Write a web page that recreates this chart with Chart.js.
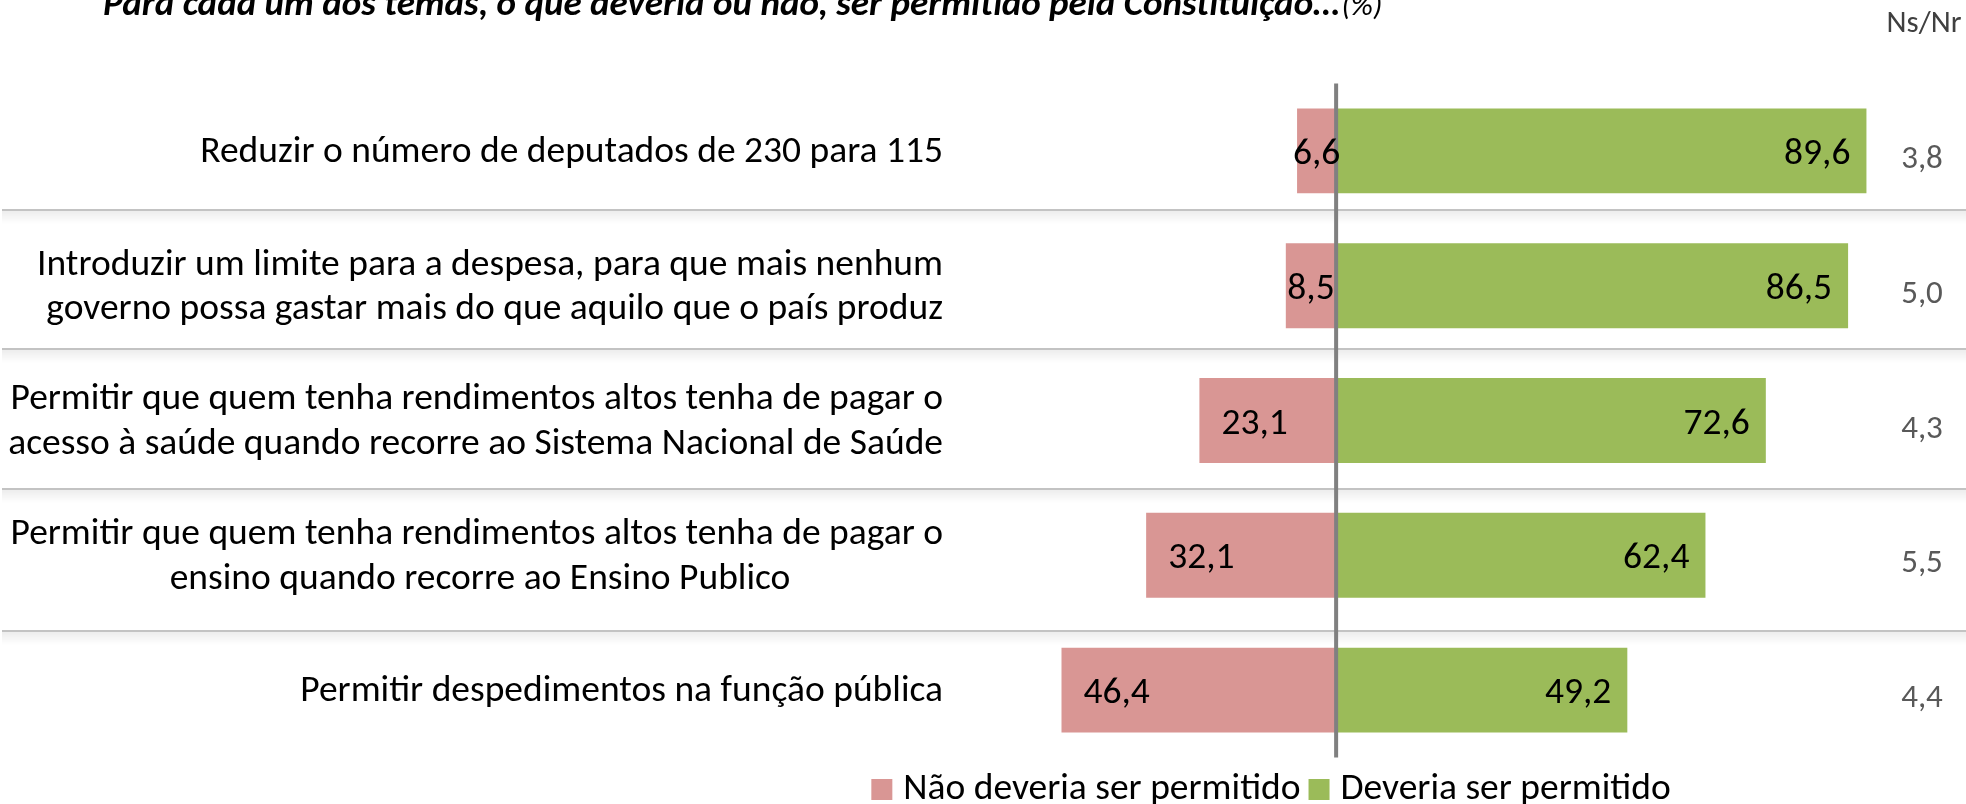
<!DOCTYPE html>
<html><head><meta charset="utf-8">
<script src="https://cdn.jsdelivr.net/npm/chart.js@4.4.1/dist/chart.umd.min.js"></script>
<style>html,body{margin:0;padding:0;background:#fff;overflow:hidden}#wrap{width:1966px;height:804px;position:relative}</style>
</head><body>
<div id="wrap"><canvas id="c"></canvas></div>
<script>
// ---- data ----
const categories = [
  ['Reduzir o número de deputados de 230 para 115'],
  ['Introduzir um limite para a despesa, para que mais nenhum', 'governo possa gastar mais do que aquilo que o país produz'],
  ['Permitir que quem tenha rendimentos altos tenha de pagar o', 'acesso à saúde quando recorre ao Sistema Nacional de Saúde'],
  ['Permitir que quem tenha rendimentos altos tenha de pagar o', 'ensino quando recorre ao Ensino Publico                  '],
  ['Permitir despedimentos na função pública']
];
const naoPermitido = [6.6, 8.5, 23.1, 32.1, 46.4];
const permitido = [89.6, 86.5, 72.6, 62.4, 49.2];
const nsNr = [3.8, 5.0, 4.3, 5.5, 4.4];
const seriesNames = ['Não deveria ser permitido', 'Deveria ser permitido'];
const nsNrHeader = 'Ns/Nr';
const titleBold = 'Para cada um dos temas, o que deveria ou não, ser permitido pela Constituição…';
const titleTail = '(%)';

// ---- style ----
const FONT = 'Carlito, Calibri, Lato, sans-serif';
const PINK = '#D99694';
const GREEN = '#9BBB59';
const SEP_POS = [0.44, 1.47, 2.51, 3.56]; // separator positions in category units
const fmt = v => v.toFixed(1).replace('.', ',');

const decorations = {
  id: 'decorations',
  beforeDatasetsDraw(chart) {
    const {ctx, scales: {y}} = chart;
    const y0 = y.getPixelForValue(0), step = y.getPixelForValue(1) - y0;
    ctx.save();
    SEP_POS.forEach(f => {
      const yy = Math.round(y0 + f * step);
      const g = ctx.createLinearGradient(0, yy + 1, 0, yy + 14);
      g.addColorStop(0, 'rgba(0,0,0,0.07)');
      g.addColorStop(1, 'rgba(0,0,0,0)');
      ctx.fillStyle = g;
      ctx.fillRect(2, yy + 1, chart.width - 2, 13);
      ctx.fillStyle = '#C3C3C3';
      ctx.fillRect(2, yy - 1, chart.width - 2, 2);
    });
    // category labels (right aligned, multi-line)
    ctx.font = '37.5px ' + FONT;
    ctx.fillStyle = '#000';
    ctx.textAlign = 'right';
    ctx.textBaseline = 'alphabetic';
    const lh = 44.4;
    categories.forEach((lines, i) => {
      const cy = y.getPixelForValue(i);
      const first = cy + 11 - (lines.length - 1) * lh / 2;
      lines.forEach((t, k) => ctx.fillText(t, 943, first + k * lh));
    });
    ctx.restore();
  },
  afterDatasetsDraw(chart) {
    const {ctx, chartArea, scales: {x}} = chart;
    ctx.save();
    // zero line
    const zx = x.getPixelForValue(0);
    ctx.fillStyle = '#808080';
    ctx.fillRect(zx - 2, chartArea.top, 4, chartArea.bottom - chartArea.top);
    // data labels
    ctx.font = '37.5px ' + FONT;
    ctx.fillStyle = '#000';
    ctx.textBaseline = 'alphabetic';
    ctx.textAlign = 'left';
    const m0 = chart.getDatasetMeta(0), m1 = chart.getDatasetMeta(1);
    m0.data.forEach((bar, i) => {
      const t = fmt(naoPermitido[i]);
      const w = ctx.measureText(t).width;
      let left = bar.x + 22;
      if (left + w > zx - 4) left = (bar.x + zx) / 2 - w / 2;
      ctx.fillText(t, left, bar.y + 13);
    });
    ctx.textAlign = 'right';
    m1.data.forEach((bar, i) => {
      ctx.fillText(fmt(permitido[i]), bar.x - 16, bar.y + 13);
    });
    // Ns/Nr column
    ctx.font = '33px ' + FONT;
    ctx.fillStyle = '#595959';
    ctx.textAlign = 'center';
    m1.data.forEach((bar, i) => {
      ctx.fillText(fmt(nsNr[i]), 1922, bar.y + 17);
    });
    ctx.restore();
  },
  afterDraw(chart) {
    const {ctx} = chart;
    ctx.save();
    // header Ns/Nr
    ctx.font = '31px ' + FONT;
    ctx.fillStyle = '#404040';
    ctx.textAlign = 'center';
    ctx.textBaseline = 'alphabetic';
    ctx.fillText(nsNrHeader, 1924, 32);
    // title
    ctx.fillStyle = '#000';
    ctx.textAlign = 'left';
    ctx.font = 'italic bold 37px ' + FONT;
    const tw = ctx.measureText(titleBold).width;
    ctx.fillText(titleBold, 103, 15);
    ctx.font = 'italic 31px ' + FONT;
    ctx.fillText(titleTail, 103 + tw + 2, 15);
    // legend
    ctx.font = '37.5px ' + FONT;
    const colors = [PINK, GREEN];
    const sq = 21, gap = 11, between = 8;
    const widths = seriesNames.map(s => ctx.measureText(s).width);
    const total = widths.reduce((a, w) => a + sq + gap + w, 0) + between;
    let lx = 1271 - total / 2;
    seriesNames.forEach((s, i) => {
      ctx.fillStyle = colors[i];
      ctx.fillRect(lx, 779, sq, sq);
      lx += sq + gap;
      ctx.fillStyle = '#000';
      ctx.fillText(s, lx, 799);
      lx += widths[i] + between;
    });
    ctx.restore();
  }
};

Chart.defaults.font.family = FONT;
new Chart(document.getElementById('c'), {
  type: 'bar',
  data: {
    labels: categories,
    datasets: [
      {label: seriesNames[0], data: naoPermitido.map(v => -v), backgroundColor: PINK,
       categoryPercentage: 1, barPercentage: 0.63},
      {label: seriesNames[1], data: permitido, backgroundColor: GREEN,
       categoryPercentage: 1, barPercentage: 0.63}
    ]
  },
  options: {
    indexAxis: 'y',
    responsive: true,
    maintainAspectRatio: false,
    animation: false,
    layout: {padding: {left: 0, top: 83.5, bottom: 46.5, right: 38}},
    plugins: {legend: {display: false}, tooltip: {enabled: false}},
    scales: {
      x: {stacked: true, min: -60, max: 100, display: false},
      y: {
        stacked: true,
        grid: {display: false, drawTicks: false},
        border: {display: false},
        ticks: {display: false},
        afterFit(scale) { scale.width = 981; scale.paddingTop = 0; scale.paddingBottom = 0; }
      }
    }
  },
  plugins: [decorations]
});
</script></body></html>
